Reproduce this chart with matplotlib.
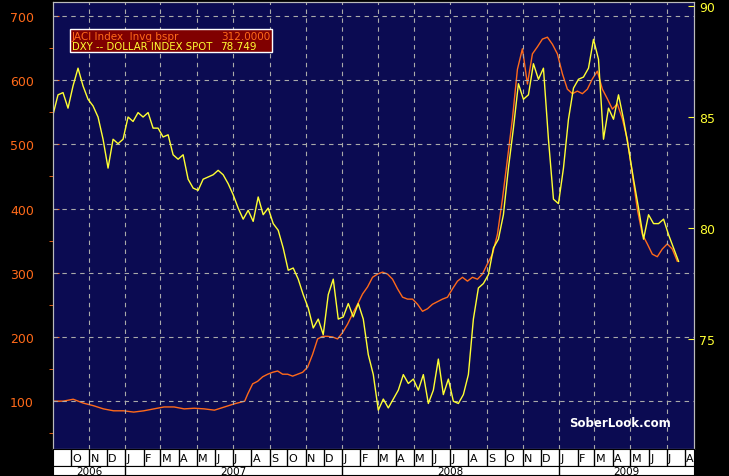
import numpy as np
import matplotlib
matplotlib.use("Agg")
import matplotlib.pyplot as plt
import matplotlib.dates as mdates
from matplotlib.patches import Rectangle
import pandas as pd

# DXY dollar index (right axis), roughly weekly from Sep 2006 to Jul 2009
dxy = [85.1, 86.0, 86.1, 85.4, 86.4, 87.2, 86.4, 85.8, 85.5, 85.0, 84.0, 82.7, 84.0, 83.8, 84.0, 85.0,
       84.8, 85.2, 85.0, 85.2, 84.5, 84.5, 84.1, 84.2, 83.3, 83.1, 83.3, 82.2, 81.8, 81.7, 82.2, 82.3,
       82.4, 82.6, 82.4, 82.0, 81.5, 80.9, 80.4, 80.8, 80.3, 81.4, 80.6, 80.9, 80.2, 79.9, 79.1, 78.1,
       78.2, 77.7, 77.0, 76.4, 75.5, 75.9, 75.2, 77.0, 77.7, 75.9, 76.0, 76.6, 76.0, 76.6, 75.9, 74.3,
       73.4, 71.8, 72.3, 71.9, 72.3, 72.7, 73.4, 73.0, 73.2, 72.7, 73.4, 72.1, 72.7, 74.1, 72.5, 73.2,
       72.2, 72.1, 72.5, 73.4, 75.9, 77.3, 77.5, 77.9, 79.1, 79.5, 80.6, 82.7, 84.5, 86.5, 85.8, 86.0,
       87.4, 86.7, 87.2, 84.0, 81.3, 81.1, 82.7, 84.9, 86.3, 86.7, 86.8, 87.2, 88.5, 87.6, 84.0, 85.4,
       84.9, 86.0, 84.9, 83.6, 82.2, 80.9, 79.5, 80.6, 80.2, 80.2, 80.4, 79.7, 79.1, 78.5]
# JACI investment grade spread (left axis): fortnightly to Jul 2007, then weekly
jaci_early = [100, 100, 103, 97, 93, 88, 85, 85, 83, 85, 88, 91, 91, 88, 89, 88, 86, 91, 96, 100]
jaci_late = [111, 127,
        131, 138, 142, 145, 147, 142, 142, 139, 142, 145, 153, 173, 197, 201, 201, 200, 197, 207, 220,
        236, 251, 267, 278, 293, 298, 301, 298, 290, 275, 262, 259, 259, 251, 240, 244, 251, 255, 259,
        262, 275, 287, 293, 287, 293, 290, 298, 314, 329, 360, 415, 477, 540, 617, 649, 594, 641, 652,
        664, 667, 656, 641, 610, 586, 579, 583, 579, 586, 602, 614, 586, 571, 555, 563, 540, 508, 454,
        399, 360, 345, 329, 325, 337, 345, 337, 318]

months = ["S", "O", "N", "D"] + ["J", "F", "M", "A", "M", "J", "J", "A", "S", "O", "N", "D"] * 2 + \
         ["J", "F", "M", "A", "M", "J", "J", "A"]
years = ["2006", "2007", "2008", "2009"]

NAVY = "#0b0b52"
ORANGE = "#ff6a1a"
YELLOW = "#ffff33"
W, H = 729, 477
start = mdates.date2num(pd.Timestamp("2006-09-01"))
end = mdates.date2num(pd.Timestamp("2009-07-21"))
xmax = mdates.date2num(pd.Timestamp("2009-08-16"))

jaci_dates = list(pd.date_range("2006-09-01", periods=len(jaci_early), freq="17D")) + \
    list(pd.date_range("2007-07-26", periods=len(jaci_late), freq="202h"))
jaci = jaci_early + jaci_late

fig = plt.figure(figsize=(W / 100, H / 100), dpi=100, facecolor="black")
ax = fig.add_axes([53 / W, 27 / H, 641 / W, 447 / H], facecolor=NAVY)
ax2 = ax.twinx()

ax.plot(mdates.date2num(jaci_dates), jaci, color=ORANGE, lw=1)
ax2.plot(np.linspace(start, end, len(dxy)), dxy, color=YELLOW, lw=1)

ax.set_xlim(start, xmax)
ax.set_ylim(25.5, 721.8)
ax2.set_ylim(70.05, 90.18)
ax.set_yticks(range(100, 701, 100))
ax.set_yticks(range(50, 701, 100), minor=True)
ax2.set_yticks([75, 80, 85, 90])
ax.tick_params(axis="y", colors=ORANGE, labelsize=9, length=4, direction="in", pad=31)
ax.tick_params(axis="y", which="minor", colors=ORANGE, length=3, direction="out")
ax2.tick_params(axis="y", colors=YELLOW, labelsize=9, length=4, direction="in")
for lab in ax.get_yticklabels():
    lab.set_horizontalalignment("left")
for a in (ax, ax2):
    for s in a.spines.values():
        s.set_color("#bbbbbb")
    a.set_xticks([])

grid_dates = pd.date_range("2006-11-01", "2009-07-01", freq="2MS")
for d in grid_dates:
    ax.axvline(mdates.date2num(d), color="#aaaaaa", ls=(0, (4, 4)), lw=0.8)
for v in range(100, 701, 100):
    ax.axhline(v, color="#aaaaaa", ls=(0, (4, 4)), lw=0.8)

# legend box
ax.add_patch(Rectangle((17 / 641, 1 - 50 / 447), 202 / 641, 23 / 447, transform=ax.transAxes,
                       fc="#800000", ec="white", lw=1, zorder=5))
ax.text(19 / 641, 1 - 34 / 447, "JACI Index  Invg bspr", transform=ax.transAxes, color=ORANGE,
        fontsize=7.5, va="center", zorder=6)
ax.text(217 / 641, 1 - 34 / 447, "312.0000", transform=ax.transAxes, color=ORANGE,
        fontsize=7.5, va="center", ha="right", zorder=6)
ax.text(19 / 641, 1 - 44 / 447, "DXY -- DOLLAR INDEX SPOT", transform=ax.transAxes, color=YELLOW,
        fontsize=7.3, va="center", zorder=6)
ax.text(167 / 641, 1 - 44 / 447, "78.749", transform=ax.transAxes, color=YELLOW,
        fontsize=7.5, va="center", zorder=6)
ax.text(0.885, 0.06, "SoberLook.com", transform=ax.transAxes, color="white", fontsize=8.5,
        fontweight="bold", ha="center", va="center")

# month strip
mx = fig.add_axes([53 / W, 10 / H, 641 / W, 17 / H], facecolor="white")
mx.set_xlim(start, xmax)
mx.set_ylim(0, 1)
mstarts = pd.date_range("2006-09-01", "2009-08-01", freq="MS")
for d, lab in zip(mstarts, months):
    x = mdates.date2num(d)
    if x > start:
        mx.axvline(x, color="black", lw=1)
    if d >= pd.Timestamp("2006-10-01"):
        mx.text(x + 2, 0.45, lab, fontsize=8, va="center", ha="left")
mx.set_xticks([]); mx.set_yticks([])

yx = fig.add_axes([53 / W, 1 / H, 641 / W, 9 / H], facecolor="white")
yx.set_xlim(start, xmax)
yx.set_ylim(0, 1)
ybounds = [start] + [mdates.date2num(pd.Timestamp(f"{y}-01-01")) for y in (2007, 2008, 2009)] + [xmax]
for i, lab in enumerate(years):
    if i > 0:
        yx.axvline(ybounds[i], color="black", lw=1)
    yx.text((ybounds[i] + ybounds[i + 1]) / 2, 0.45, lab, fontsize=7.5, ha="center", va="center")
yx.set_xticks([]); yx.set_yticks([])
for a in (mx, yx):
    for s in a.spines.values():
        s.set_color("black")

fig.savefig("out.png", dpi=100, facecolor="black")
